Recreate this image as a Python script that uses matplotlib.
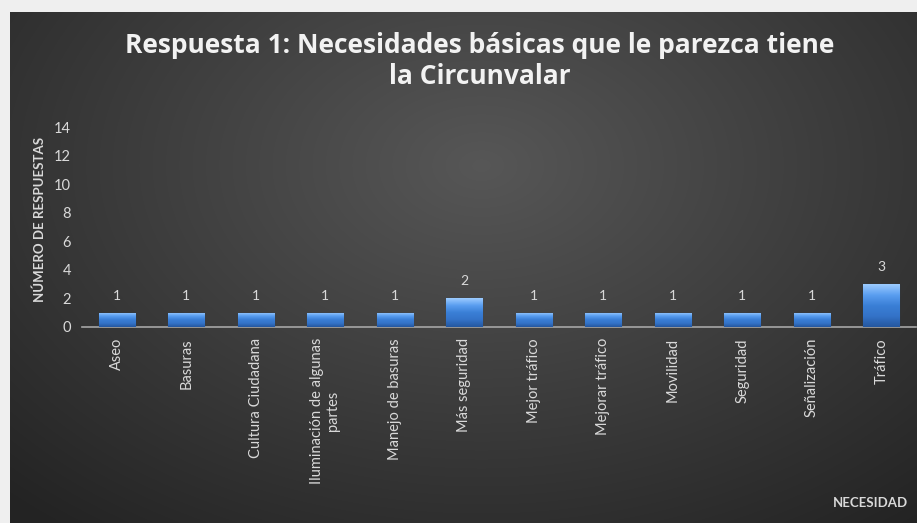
import numpy as np
import matplotlib
matplotlib.use("Agg")
import matplotlib.pyplot as plt
from matplotlib.colors import LinearSegmentedColormap

categories = ["Aseo", "Basuras", "Cultura Ciudadana", "Iluminación de algunas\npartes",
              "Manejo de basuras", "Más seguridad", "Mejor tráfico", "Mejorar tráfico",
              "Movilidad", "Seguridad", "Señalización", "Tráfico"]
values = [1, 1, 1, 1, 1, 2, 1, 1, 1, 1, 1, 3]
yticks = [0, 2, 4, 6, 8, 10, 12, 14]
title = "Respuesta 1: Necesidades básicas que le parezca tiene\nla Circunvalar"
ylabel = "NÚMERO DE RESPUESTAS"
xlabel = "NECESIDAD"

plt.rcParams['font.family'] = ['Lato', 'DejaVu Sans']

W, H = 917, 523
fig = plt.figure(figsize=(W / 100, H / 100), dpi=100)
fig.patch.set_facecolor('#efefef')

# dark radial gradient panel
bg = fig.add_axes([10 / W, 0, 1 - 10 / W, 1 - 12 / H])
bg.set_axis_off()
yy, xx = np.mgrid[0:1:300j, 0:1:500j]
r = np.sqrt(((xx - 0.52) / 0.75) ** 2 + ((yy - 0.3) / 0.9) ** 2)
g = np.clip(0.34 - 0.20 * r, 0.14, 0.36)
img = np.dstack([g, g, g])
bg.imshow(img, aspect='auto', extent=[0, 1, 1, 0], interpolation='bicubic')
bg.set_xlim(0, 1)
bg.set_ylim(1, 0)

ax = fig.add_axes([82 / W, 1 - 327 / H, (916 - 82) / W, 200 / H])
ax.patch.set_alpha(0)
x = np.arange(len(categories))
bars = ax.bar(x, values, width=0.52, color='#3b7dd4', edgecolor='#1a4a8e', linewidth=0.8, zorder=3)

# bevel-like vertical gradient in each bar
grad = np.linspace(0, 1, 64).reshape(-1, 1)
cmap = LinearSegmentedColormap.from_list('b', ['#9ccbff', '#5a9ef0', '#3a7fd6', '#3473c8', '#2558a0'])
for b in bars:
    bx, by, bw, bh = b.get_x(), b.get_y(), b.get_width(), b.get_height()
    im = ax.imshow(grad, cmap=cmap, aspect='auto', extent=[bx, bx + bw, by, by + bh],
                   zorder=4, origin='upper')
    im.set_clip_path(b)
ax.set_aspect('auto')

for xi, v in zip(x, values):
    ax.annotate(str(v), (xi, v), xytext=(0, 8), textcoords='offset points',
                ha='center', va='bottom', color='#d9d9d9', fontsize=10)

ax.set_xlim(-0.5, len(categories) - 0.5)
ax.set_ylim(0, 14)
ax.set_yticks(yticks)
ax.set_xticks(x)
ax.set_xticklabels(categories, rotation=90, ha='center', va='top', multialignment='center')
ax.tick_params(axis='both', length=0, colors='#d9d9d9', labelsize=10.5)
ax.tick_params(axis='x', pad=8)
ax.tick_params(axis='y', pad=8)
for s in ['top', 'right', 'left']:
    ax.spines[s].set_visible(False)
ax.spines['bottom'].set_color('#a6a6a6')
ax.spines['bottom'].set_linewidth(1.2)

fig.text(40 / W, 1 - 219 / H, ylabel, rotation=90, ha='center', va='center',
         color='#d9d9d9', fontsize=9.5, fontweight='bold')
fig.text(870 / W, 1 - 503 / H, xlabel, ha='center', va='center',
         color='#d9d9d9', fontsize=9.5, fontweight='bold')
fig.text(480 / W, 1 - 61 / H, title, ha='center', va='center', color='#f2f2f2',
         fontsize=19, fontweight='bold', linespacing=1.22,
         family=['Open Sans', 'DejaVu Sans'])

fig.savefig('out.png', dpi=100, facecolor=fig.get_facecolor())
